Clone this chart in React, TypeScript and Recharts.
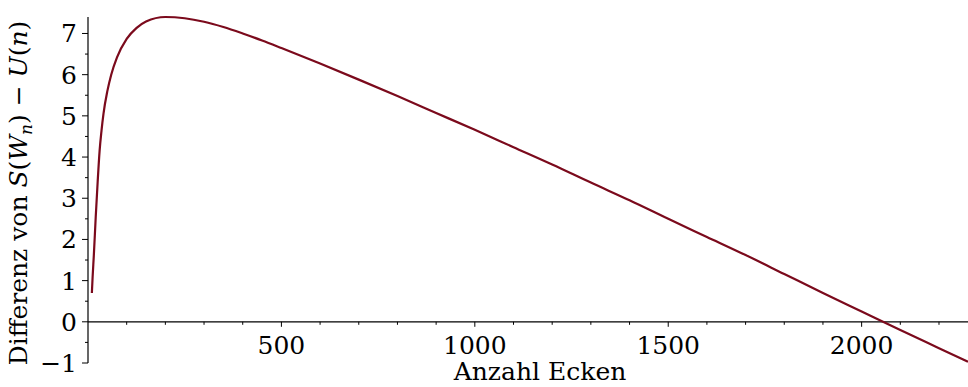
import React from "react";
import { LineChart, Line, XAxis, YAxis, ReferenceLine } from "recharts";

// Anzahl Ecken (n) and the difference S(W_n) - U(n)
const ecken = [10, 12, 15, 20, 25, 30, 35, 40, 50, 60, 75, 100, 125, 150, 200, 250, 300, 350, 400, 450, 500, 600, 700, 800, 900, 1000, 1100, 1200, 1300, 1400, 1500, 1600, 1700, 1800, 1900, 2000, 2100, 2200, 2275];
const differenz = [0.7, 1.1, 1.6, 2.55, 3.4, 4.15, 4.65, 5.05, 5.6, 6.0, 6.42, 6.87, 7.13, 7.29, 7.4, 7.37, 7.285, 7.157, 7.0, 6.83, 6.647, 6.27, 5.88, 5.48, 5.07, 4.66, 4.24, 3.82, 3.38, 2.95, 2.5, 2.06, 1.62, 1.16, 0.7, 0.25, -0.2, -0.64, -0.97];

const xTicks = [100, 200, 300, 400, 500, 600, 700, 800, 900, 1000, 1100, 1200, 1300, 1400, 1500, 1600, 1700, 1800, 1900, 2000, 2100, 2200];
const xLabelled = [500, 1000, 1500, 2000];
const yTicks = [-1, -0.5, 0, 0.5, 1, 1.5, 2, 2.5, 3, 3.5, 4, 4.5, 5, 5.5, 6, 6.5, 7];

const X_MAX = 2275;
const Y_MIN = -1;
const Y_MAX = 7.4;

const data = ecken.map((n, i) => ({ n, d: differenz[i] }));

const W = 968;
const H = 387;
const TOP = 17;
const BOTTOM = 24;
const PLOT_H = H - TOP - BOTTOM;
// pixel distance from the bottom of the plot up to y = 0
const ZERO_UP = (PLOT_H * (0 - Y_MIN)) / (Y_MAX - Y_MIN);

const FONT = "'DejaVu Serif', 'Liberation Serif', serif";
const LINE_COLOR = "#7b0a1c";

const YTick = (props: any) => {
  const { x, y, payload } = props;
  const v = payload.value;
  const major = Number.isInteger(v);
  return (
    <g>
      <line x1={x - (major ? 6 : 3)} x2={x} y1={y} y2={y} stroke="#000" strokeWidth={1} />
      {major && (
        <text x={x - 11} y={y} dy="0.36em" textAnchor="end" fontSize={25} fontFamily={FONT} fill="#000">
          {v < 0 ? `\u2212${Math.abs(v)}` : v}
        </text>
      )}
    </g>
  );
};

const XTick = (props: any) => {
  const { x, y, payload } = props;
  const v = payload.value;
  const major = xLabelled.includes(v);
  const zy = y - ZERO_UP;
  return (
    <g>
      <line x1={x} x2={x} y1={zy} y2={zy + (major ? 5 : 3)} stroke="#000" strokeWidth={1} />
      {major && (
        <text x={x} y={zy + 32} textAnchor="middle" fontSize={25} fontFamily={FONT} fill="#000">
          {v}
        </text>
      )}
    </g>
  );
};

export default function App() {
  return (
    <div style={{ position: "absolute", left: 0, top: 0, width: W, height: H, background: "#fff" }}>
      <LineChart width={W} height={H} data={data} margin={{ top: TOP, right: 0, bottom: BOTTOM - 1, left: 28 }}>
        <XAxis
          dataKey="n"
          type="number"
          domain={[0, X_MAX]}
          ticks={xTicks}
          height={1}
          axisLine={false}
          tickLine={false}
          tickSize={0}
          tickMargin={0}
          tick={XTick}
          interval={0}
        />
        <YAxis
          type="number"
          domain={[Y_MIN, Y_MAX]}
          ticks={yTicks}
          width={60}
          axisLine={{ stroke: "#000", strokeWidth: 1.2 }}
          tickLine={false}
          tickSize={0}
          tickMargin={0}
          tick={YTick}
          interval={0}
        />
        <ReferenceLine y={0} stroke="#000" strokeWidth={1.2} />
        <Line
          type="monotone"
          dataKey="d"
          stroke={LINE_COLOR}
          strokeWidth={2.2}
          dot={false}
          isAnimationActive={false}
        />
      </LineChart>
      <div
        style={{
          position: "absolute",
          left: 540 - 150,
          top: 357,
          width: 300,
          textAlign: "center",
          fontFamily: FONT,
          fontSize: 25,
          lineHeight: "30px",
          color: "#000",
        }}
      >
        Anzahl Ecken
      </div>
      <div
        style={{
          position: "absolute",
          left: 20 - 210,
          top: 192 - 15,
          width: 420,
          textAlign: "center",
          fontFamily: FONT,
          fontSize: 25,
          lineHeight: "30px",
          color: "#000",
          whiteSpace: "nowrap",
          transform: "rotate(-90deg)",
        }}
      >
        Differenz von <i>S</i>(<i>W</i>
        <span style={{ fontSize: 17, fontStyle: "italic", position: "relative", top: 5 }}>n</span>) − <i>U</i>(<i>n</i>)
      </div>
    </div>
  );
}
